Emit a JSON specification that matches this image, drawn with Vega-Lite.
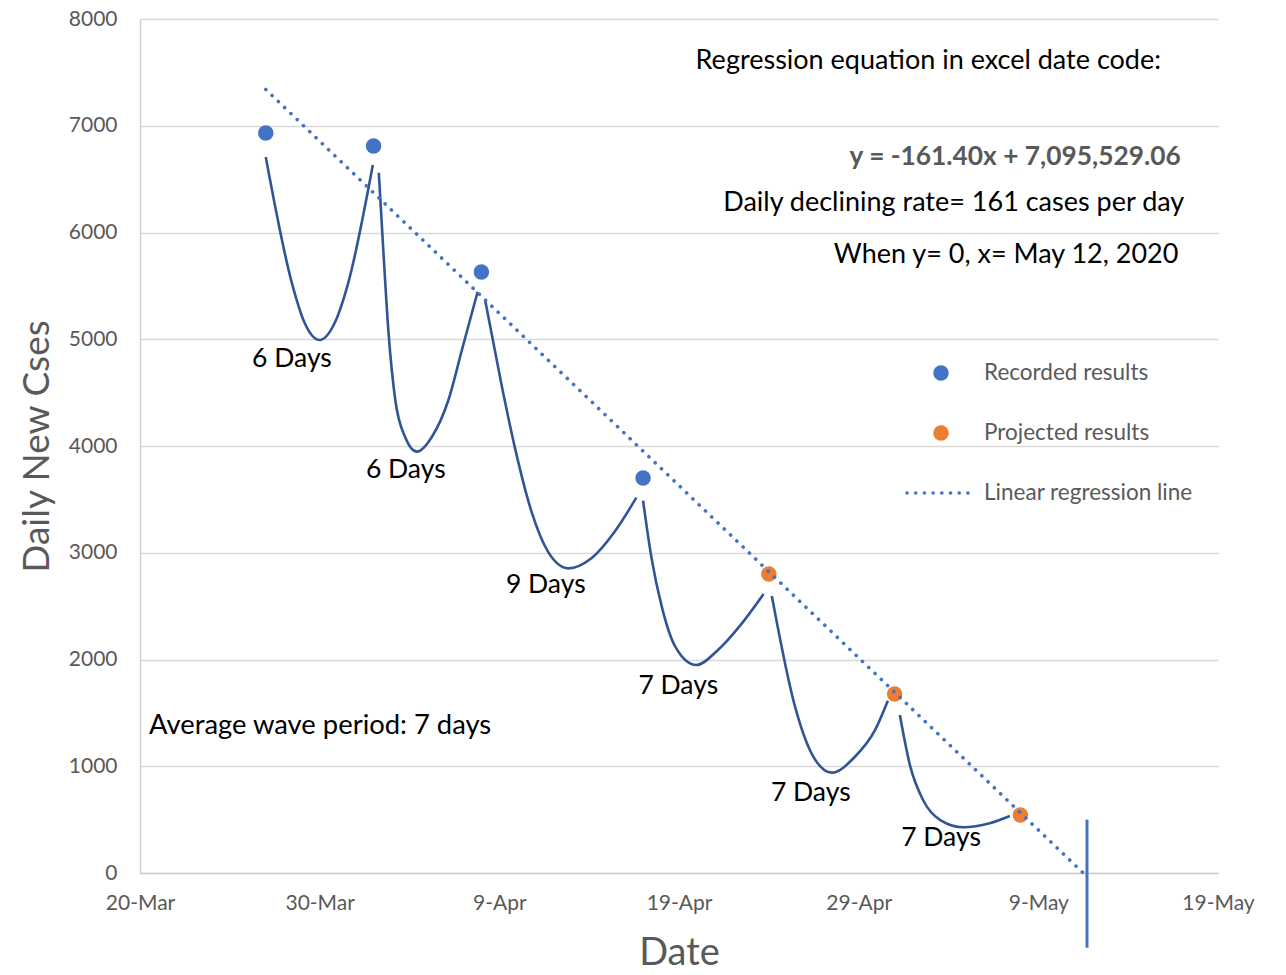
{
  "$schema": "https://vega.github.io/schema/vega-lite/v6.json",
  "width": 1078,
  "height": 854,
  "autosize": {"type": "none"},
  "padding": {"left": 140, "top": 19, "right": 68, "bottom": 102},
  "background": "white",
  "config": {
    "font": "Lato",
    "view": {"stroke": null},
    "axis": {
      "labelFont": "Lato",
      "titleFont": "Lato",
      "labelColor": "#595959",
      "titleColor": "#595959",
      "titleFontWeight": "normal",
      "ticks": false,
      "tickSize": 0,
      "domainColor": "#D0D0D0",
      "domainWidth": 1.5,
      "gridColor": "#D9D9D9",
      "gridWidth": 1.5,
      "labelFlush": false,
      "labelOverlap": false,
      "labelBound": false
    }
  },
  "datasets": {
    "waves": [
      {"wave": 1, "date": "2020-03-27T00:00:00Z", "value": 6707},
      {"wave": 1, "date": "2020-03-28T11:00:00Z", "value": 5524},
      {"wave": 1, "date": "2020-03-29T04:00:00Z", "value": 5152},
      {"wave": 1, "date": "2020-03-30T00:00:00Z", "value": 4993},
      {"wave": 1, "date": "2020-03-30T20:00:00Z", "value": 5152},
      {"wave": 1, "date": "2020-03-31T14:00:00Z", "value": 5524},
      {"wave": 1, "date": "2020-04-01T23:00:00Z", "value": 6632},
      {"wave": 2, "date": "2020-04-02T07:00:00Z", "value": 6560},
      {"wave": 2, "date": "2020-04-02T13:00:00Z", "value": 5836},
      {"wave": 2, "date": "2020-04-02T20:00:00Z", "value": 5059},
      {"wave": 2, "date": "2020-04-03T05:00:00Z", "value": 4431},
      {"wave": 2, "date": "2020-04-03T18:00:00Z", "value": 4087},
      {"wave": 2, "date": "2020-04-04T10:00:00Z", "value": 3947},
      {"wave": 2, "date": "2020-04-05T06:00:00Z", "value": 4087},
      {"wave": 2, "date": "2020-04-06T04:00:00Z", "value": 4431},
      {"wave": 2, "date": "2020-04-06T22:00:00Z", "value": 4899},
      {"wave": 2, "date": "2020-04-07T19:00:00Z", "value": 5445},
      {"wave": 3, "date": "2020-04-08T05:00:00Z", "value": 5368},
      {"wave": 3, "date": "2020-04-09T03:00:00Z", "value": 4571},
      {"wave": 3, "date": "2020-04-09T21:00:00Z", "value": 3978},
      {"wave": 3, "date": "2020-04-10T19:00:00Z", "value": 3385},
      {"wave": 3, "date": "2020-04-11T17:00:00Z", "value": 3010},
      {"wave": 3, "date": "2020-04-12T20:00:00Z", "value": 2854},
      {"wave": 3, "date": "2020-04-14T03:00:00Z", "value": 2948},
      {"wave": 3, "date": "2020-04-15T10:00:00Z", "value": 3197},
      {"wave": 3, "date": "2020-04-16T15:00:00Z", "value": 3516},
      {"wave": 4, "date": "2020-04-17T00:00:00Z", "value": 3488},
      {"wave": 4, "date": "2020-04-17T11:00:00Z", "value": 2963},
      {"wave": 4, "date": "2020-04-18T01:00:00Z", "value": 2495},
      {"wave": 4, "date": "2020-04-18T19:00:00Z", "value": 2120},
      {"wave": 4, "date": "2020-04-19T23:00:00Z", "value": 1948},
      {"wave": 4, "date": "2020-04-21T04:00:00Z", "value": 2089},
      {"wave": 4, "date": "2020-04-22T12:00:00Z", "value": 2339},
      {"wave": 4, "date": "2020-04-23T17:00:00Z", "value": 2614},
      {"wave": 5, "date": "2020-04-24T04:00:00Z", "value": 2595},
      {"wave": 5, "date": "2020-04-25T11:00:00Z", "value": 1558},
      {"wave": 5, "date": "2020-04-26T09:00:00Z", "value": 1121},
      {"wave": 5, "date": "2020-04-27T12:00:00Z", "value": 940},
      {"wave": 5, "date": "2020-04-28T19:00:00Z", "value": 1089},
      {"wave": 5, "date": "2020-04-29T22:00:00Z", "value": 1340},
      {"wave": 5, "date": "2020-04-30T15:00:00Z", "value": 1614},
      {"wave": 6, "date": "2020-05-01T07:00:00Z", "value": 1480},
      {"wave": 6, "date": "2020-05-01T21:00:00Z", "value": 996},
      {"wave": 6, "date": "2020-05-02T14:00:00Z", "value": 684},
      {"wave": 6, "date": "2020-05-03T13:00:00Z", "value": 496},
      {"wave": 6, "date": "2020-05-04T20:00:00Z", "value": 428},
      {"wave": 6, "date": "2020-05-06T07:00:00Z", "value": 466},
      {"wave": 6, "date": "2020-05-07T10:00:00Z", "value": 534}
    ],
    "points": [
      {"type": "Recorded", "date": "2020-03-27T00:00:00Z", "value": 6932},
      {"type": "Recorded", "date": "2020-04-02T00:00:00Z", "value": 6810},
      {"type": "Recorded", "date": "2020-04-08T00:00:00Z", "value": 5630},
      {"type": "Recorded", "date": "2020-04-17T00:00:00Z", "value": 3700},
      {"type": "Projected", "date": "2020-04-24T00:00:00Z", "value": 2801},
      {"type": "Projected", "date": "2020-05-01T00:00:00Z", "value": 1677},
      {"type": "Projected", "date": "2020-05-08T00:00:00Z", "value": 543}
    ],
    "regression": [
      {"date": "2020-03-27T00:00:00Z", "value": 7340},
      {"date": "2020-05-11T12:00:00Z", "value": 0}
    ],
    "zeroline": [
      {"date": "2020-05-11T17:00:00Z", "value": 500, "value2": -700}
    ],
    "daylabels": [
      {"date": "2020-03-28T11:00:00Z", "value": 4815, "label": "6 Days"},
      {"date": "2020-04-03T19:00:00Z", "value": 3775, "label": "6 Days"},
      {"date": "2020-04-11T14:00:00Z", "value": 2698, "label": "9 Days"},
      {"date": "2020-04-18T23:00:00Z", "value": 1752, "label": "7 Days"},
      {"date": "2020-04-26T08:00:00Z", "value": 749, "label": "7 Days"},
      {"date": "2020-05-03T14:00:00Z", "value": 328, "label": "7 Days"}
    ],
    "average": [
      {"date": "2020-03-20T12:00:00Z", "value": 1377, "label": "Average wave period: 7 days"}
    ],
    "notes": [
      {"date": "2020-05-02T21:00:00Z", "value": 7607, "label": "Regression equation in excel date code:"},
      {"date": "2020-05-04T07:00:00Z", "value": 6276, "label": "Daily declining rate= 161 cases per day"},
      {"date": "2020-05-07T05:00:00Z", "value": 5789, "label": "When y= 0, x= May 12, 2020"}
    ],
    "equation": [
      {"date": "2020-05-07T17:00:00Z", "value": 6707, "label": "y = -161.40x + 7,095,529.06"}
    ],
    "legendpoints": [
      {"type": "Recorded", "date": "2020-05-03T14:00:00Z", "value": 4684},
      {"type": "Projected", "date": "2020-05-03T14:00:00Z", "value": 4122}
    ],
    "legendline": [
      {"date": "2020-05-01T16:30:00Z", "value": 3560},
      {"date": "2020-05-05T11:30:00Z", "value": 3560}
    ],
    "legendtext": [
      {"date": "2020-05-05T23:30:00Z", "value": 4684, "label": "Recorded results"},
      {"date": "2020-05-05T23:30:00Z", "value": 4122, "label": "Projected results"},
      {"date": "2020-05-05T23:30:00Z", "value": 3560, "label": "Linear regression line"}
    ]
  },
  "encoding": {
    "x": {
      "field": "date",
      "type": "temporal",
      "scale": {
        "type": "utc",
        "domain": [
          {"year": 2020, "month": 3, "date": 20, "utc": true},
          {"year": 2020, "month": 5, "date": 19, "utc": true}
        ]
      },
      "axis": {
        "values": [
          {"year": 2020, "month": 3, "date": 20, "utc": true},
          {"year": 2020, "month": 3, "date": 30, "utc": true},
          {"year": 2020, "month": 4, "date": 9, "utc": true},
          {"year": 2020, "month": 4, "date": 19, "utc": true},
          {"year": 2020, "month": 4, "date": 29, "utc": true},
          {"year": 2020, "month": 5, "date": 9, "utc": true},
          {"year": 2020, "month": 5, "date": 19, "utc": true}
        ],
        "labelExpr": "utcFormat(datum.value, '%-d-%b')",
        "grid": false,
        "labelFontSize": 21,
        "labelPadding": 19,
        "title": "Date",
        "titleFontSize": 38,
        "titleY": 80,
        "titleBaseline": "middle"
      }
    },
    "y": {
      "field": "value",
      "type": "quantitative",
      "scale": {"domain": [0, 8000], "nice": false, "zero": false},
      "axis": {
        "values": [0, 1000, 2000, 3000, 4000, 5000, 6000, 7000, 8000],
        "format": "d",
        "grid": true,
        "labelFontSize": 21,
        "labelPadding": 23,
        "title": "Daily New Cses",
        "titleFontSize": 37,
        "titleX": -103,
        "titleY": 427,
        "titleBaseline": "middle",
        "titleAngle": -90
      }
    }
  },
  "layer": [
    {
      "data": {"name": "waves"},
      "mark": {"type": "line", "interpolate": "monotone", "color": "#2F5597", "strokeWidth": 2.6},
      "encoding": {"detail": {"field": "wave", "type": "nominal"}}
    },
    {
      "data": {"name": "points"},
      "mark": {"type": "point", "filled": true, "shape": "circle", "size": 240, "opacity": 1},
      "encoding": {
        "color": {
          "field": "type",
          "type": "nominal",
          "scale": {"domain": ["Recorded", "Projected"], "range": ["#4472C4", "#ED7D31"]},
          "legend": null
        }
      }
    },
    {
      "data": {"name": "regression"},
      "mark": {"type": "line", "color": "#4472C4", "strokeWidth": 3.6, "strokeDash": [0.1, 8.6], "strokeCap": "round"},
      "encoding": {}
    },
    {
      "data": {"name": "zeroline"},
      "mark": {"type": "rule", "color": "#4472C4", "strokeWidth": 3},
      "encoding": {"y2": {"field": "value2"}}
    },
    {
      "data": {"name": "legendpoints"},
      "mark": {"type": "point", "filled": true, "shape": "circle", "size": 240, "opacity": 1},
      "encoding": {
        "color": {
          "field": "type",
          "type": "nominal",
          "scale": {"domain": ["Recorded", "Projected"], "range": ["#4472C4", "#ED7D31"]},
          "legend": null
        }
      }
    },
    {
      "data": {"name": "legendline"},
      "mark": {"type": "line", "color": "#4472C4", "strokeWidth": 3.6, "strokeDash": [0.1, 8.6], "strokeCap": "round"},
      "encoding": {}
    },
    {
      "data": {"name": "legendtext"},
      "mark": {"type": "text", "align": "left", "baseline": "middle", "fontSize": 22.5, "color": "#595959", "font": "Lato"},
      "encoding": {"text": {"field": "label"}}
    },
    {
      "data": {"name": "daylabels"},
      "mark": {"type": "text", "align": "center", "baseline": "middle", "fontSize": 26.5, "color": "#000000", "font": "Lato"},
      "encoding": {"text": {"field": "label"}}
    },
    {
      "data": {"name": "average"},
      "mark": {"type": "text", "align": "left", "baseline": "middle", "fontSize": 27.4, "color": "#000000", "font": "Lato"},
      "encoding": {"text": {"field": "label"}}
    },
    {
      "data": {"name": "notes"},
      "mark": {"type": "text", "align": "center", "baseline": "middle", "fontSize": 27, "color": "#000000", "font": "Lato"},
      "encoding": {"text": {"field": "label"}}
    },
    {
      "data": {"name": "equation"},
      "mark": {"type": "text", "align": "center", "baseline": "middle", "fontSize": 26.3, "fontWeight": "bold", "color": "#595959", "font": "Lato"},
      "encoding": {"text": {"field": "label"}}
    }
  ]
}
